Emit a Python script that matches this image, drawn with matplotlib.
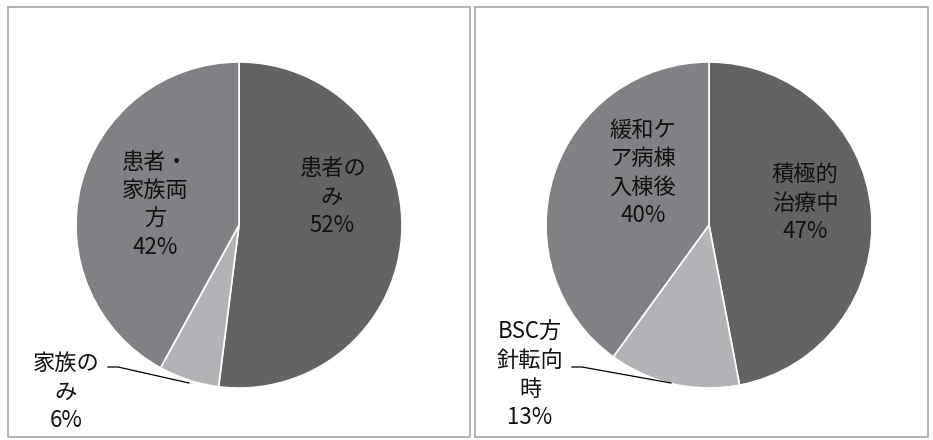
import matplotlib.pyplot as plt
from matplotlib.patches import Rectangle

plt.rcParams['font.family'] = ['Noto Sans CJK JP', 'DejaVu Sans']

# left chart
left_labels = ['患者の\nみ', '家族の\nみ', '患者・\n家族両\n方']
left_values = [52, 6, 42]
# right chart
right_labels = ['積極的\n治療中', 'BSC方\n針転向\n時', '緩和ケ\nア病棟\n入棟後']
right_values = [47, 13, 40]

colors = ['#636366', '#b2b3b6', '#808185']

W, H = 933, 440
fig = plt.figure(figsize=(W / 100, H / 100), dpi=100)


def panel(x0, x1, y0, y1, cx, cy, values, labels, text_pos, leader):
    # all geometry below in image pixels (y down)
    ax = fig.add_axes([x0 / W, 1 - y1 / H, (x1 - x0) / W, (y1 - y0) / H])
    ax.pie(values, colors=colors, startangle=90, counterclock=False,
           center=(cx, H - cy), radius=163,
           wedgeprops=dict(edgecolor='white', linewidth=1.2))
    ax.set_xlim(x0, x1)
    ax.set_ylim(H - y1, H - y0)
    ax.axis('off')
    for lab, v, (tx, ty) in zip(labels, values, text_pos):
        ax.text(tx, H - ty, f'{lab}\n{v}%', ha='center', va='center',
                fontsize=16, linespacing=1.3, color='#111111')
    xs = [p[0] for p in leader]
    ys = [H - p[1] for p in leader]
    ax.plot(xs, ys, color='black', lw=0.9)
    fig.add_artist(Rectangle((x0 / W, 1 - y1 / H), (x1 - x0) / W, (y1 - y0) / H,
                             transform=fig.transFigure, fill=False,
                             edgecolor='#a6a6a6', lw=1.2))


panel(8, 470, 7, 437, 239, 225, left_values, left_labels,
      [(332, 197), (66, 392), (155, 205)],
      [(108, 367), (118, 367), (189, 383)])
panel(475, 928, 7, 437, 709, 225, right_values, right_labels,
      [(805, 203), (530, 375), (643, 173)],
      [(572, 367), (582, 367), (671, 383)])

fig.savefig('out.png', dpi=100, facecolor='white')
